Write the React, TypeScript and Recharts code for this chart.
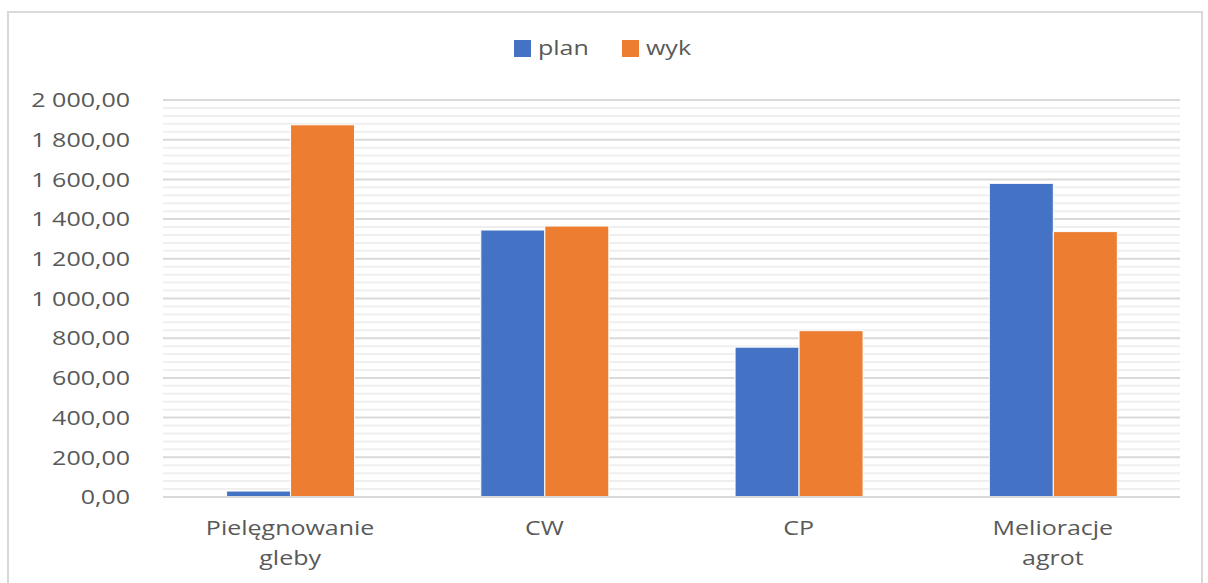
import { Bar, BarChart, CartesianGrid, Legend, XAxis, YAxis } from "recharts";

const categories = ["Pielęgnowanie gleby", "CW", "CP", "Melioracje agrot"];
const plan = [30, 1345, 755, 1580];
const wyk = [1875, 1365, 838, 1337];
const yTicks = [0, 200, 400, 600, 800, 1000, 1200, 1400, 1600, 1800, 2000];
const minorTicks = [
  40, 80, 120, 160, 240, 280, 320, 360, 440, 480, 520, 560, 640, 680, 720, 760,
  840, 880, 920, 960, 1040, 1080, 1120, 1160, 1240, 1280, 1320, 1360, 1440, 1480,
  1520, 1560, 1640, 1680, 1720, 1760, 1840, 1880, 1920, 1960,
];

const data = categories.map((name, i) => ({ name, plan: plan[i], wyk: wyk[i] }));

const BLUE = "#4472C4";
const ORANGE = "#ED7D31";
const TEXT = "#595959";
const FONT = "'Open Sans', sans-serif";
const FS = 20;
const SX = 1.25; // the source picture is stretched sideways

function fmt(v: number): string {
  const [int, dec] = v.toFixed(2).split(".");
  return int.replace(/\B(?=(\d{3})+(?!\d))/g, " ") + "," + dec;
}

function YTick({ x, y, payload }: any) {
  return (
    <g transform={`translate(${x},${y}) scale(${SX},1)`}>
      <text x={0} y={0} dy="0.36em" textAnchor="end" fill={TEXT} fontSize={FS} fontFamily={FONT}>
        {fmt(payload.value)}
      </text>
    </g>
  );
}

function XTick({ x, y, payload }: any) {
  const lines = String(payload.value).split(" ");
  return (
    <g transform={`translate(${x},${y}) scale(${SX},1)`}>
      <text x={0} y={0} textAnchor="middle" fill={TEXT} fontSize={FS} fontFamily={FONT}>
        {lines.map((l, i) => (
          <tspan key={i} x={0} dy={30}>
            {l}
          </tspan>
        ))}
      </text>
    </g>
  );
}

function LegendContent() {
  const items = [
    { label: "plan", color: BLUE },
    { label: "wyk", color: ORANGE },
  ];
  return (
    <div style={{ display: "flex", justifyContent: "center", gap: 31, fontFamily: FONT, fontSize: FS, color: TEXT, lineHeight: "24px" }}>
      {items.map((it) => (
        <span key={it.label} style={{ display: "flex", alignItems: "center", gap: 7 }}>
          <span style={{ width: 17, height: 17, background: it.color, display: "inline-block" }} />
          <span style={{ display: "inline-block", transform: `scaleX(${SX})`, transformOrigin: "left center", marginRight: 12 }}>
            {it.label}
          </span>
        </span>
      ))}
    </div>
  );
}

export default function App() {
  return (
    <div style={{ position: "fixed", left: 0, top: 0, width: 1208, height: 583, background: "#fff", overflow: "hidden" }}>
      <div
        style={{
          position: "absolute",
          left: 7,
          top: 11,
          width: 1192,
          height: 600,
          border: "2px solid #d9d9d9",
        }}
      />
      <div style={{ position: "absolute", left: 0, top: 0 }}>
        <BarChart
          width={1208}
          height={583}
          data={data}
          margin={{ top: 76, right: 28, left: 0, bottom: 0 }}
          barCategoryGap="25%"
          barGap={0}
        >
          <CartesianGrid vertical={false} horizontalValues={minorTicks} stroke="#efefef" strokeWidth={2} />
          <CartesianGrid vertical={false} stroke="#d9d9d9" strokeWidth={2} />
          <XAxis
            dataKey="name"
            height={86}
            tick={<XTick />}
            tickLine={false}
            axisLine={{ stroke: "#d9d9d9", strokeWidth: 2 }}
            interval={0}
          />
          <YAxis
            width={163}
            domain={[0, 2000]}
            ticks={yTicks}
            interval={0}
            axisLine={false}
            tickLine={false}
            tick={<YTick />}
            tickMargin={27}
          />
          <Legend
            verticalAlign="top"
            content={<LegendContent />}
            wrapperStyle={{ top: 36, left: 0, width: 1208 }}
          />
          <Bar dataKey="plan" name="plan" fill={BLUE} stroke="#ffffff" strokeWidth={1} isAnimationActive={false} />
          <Bar dataKey="wyk" name="wyk" fill={ORANGE} stroke="#ffffff" strokeWidth={1} isAnimationActive={false} />
        </BarChart>
      </div>
    </div>
  );
}
